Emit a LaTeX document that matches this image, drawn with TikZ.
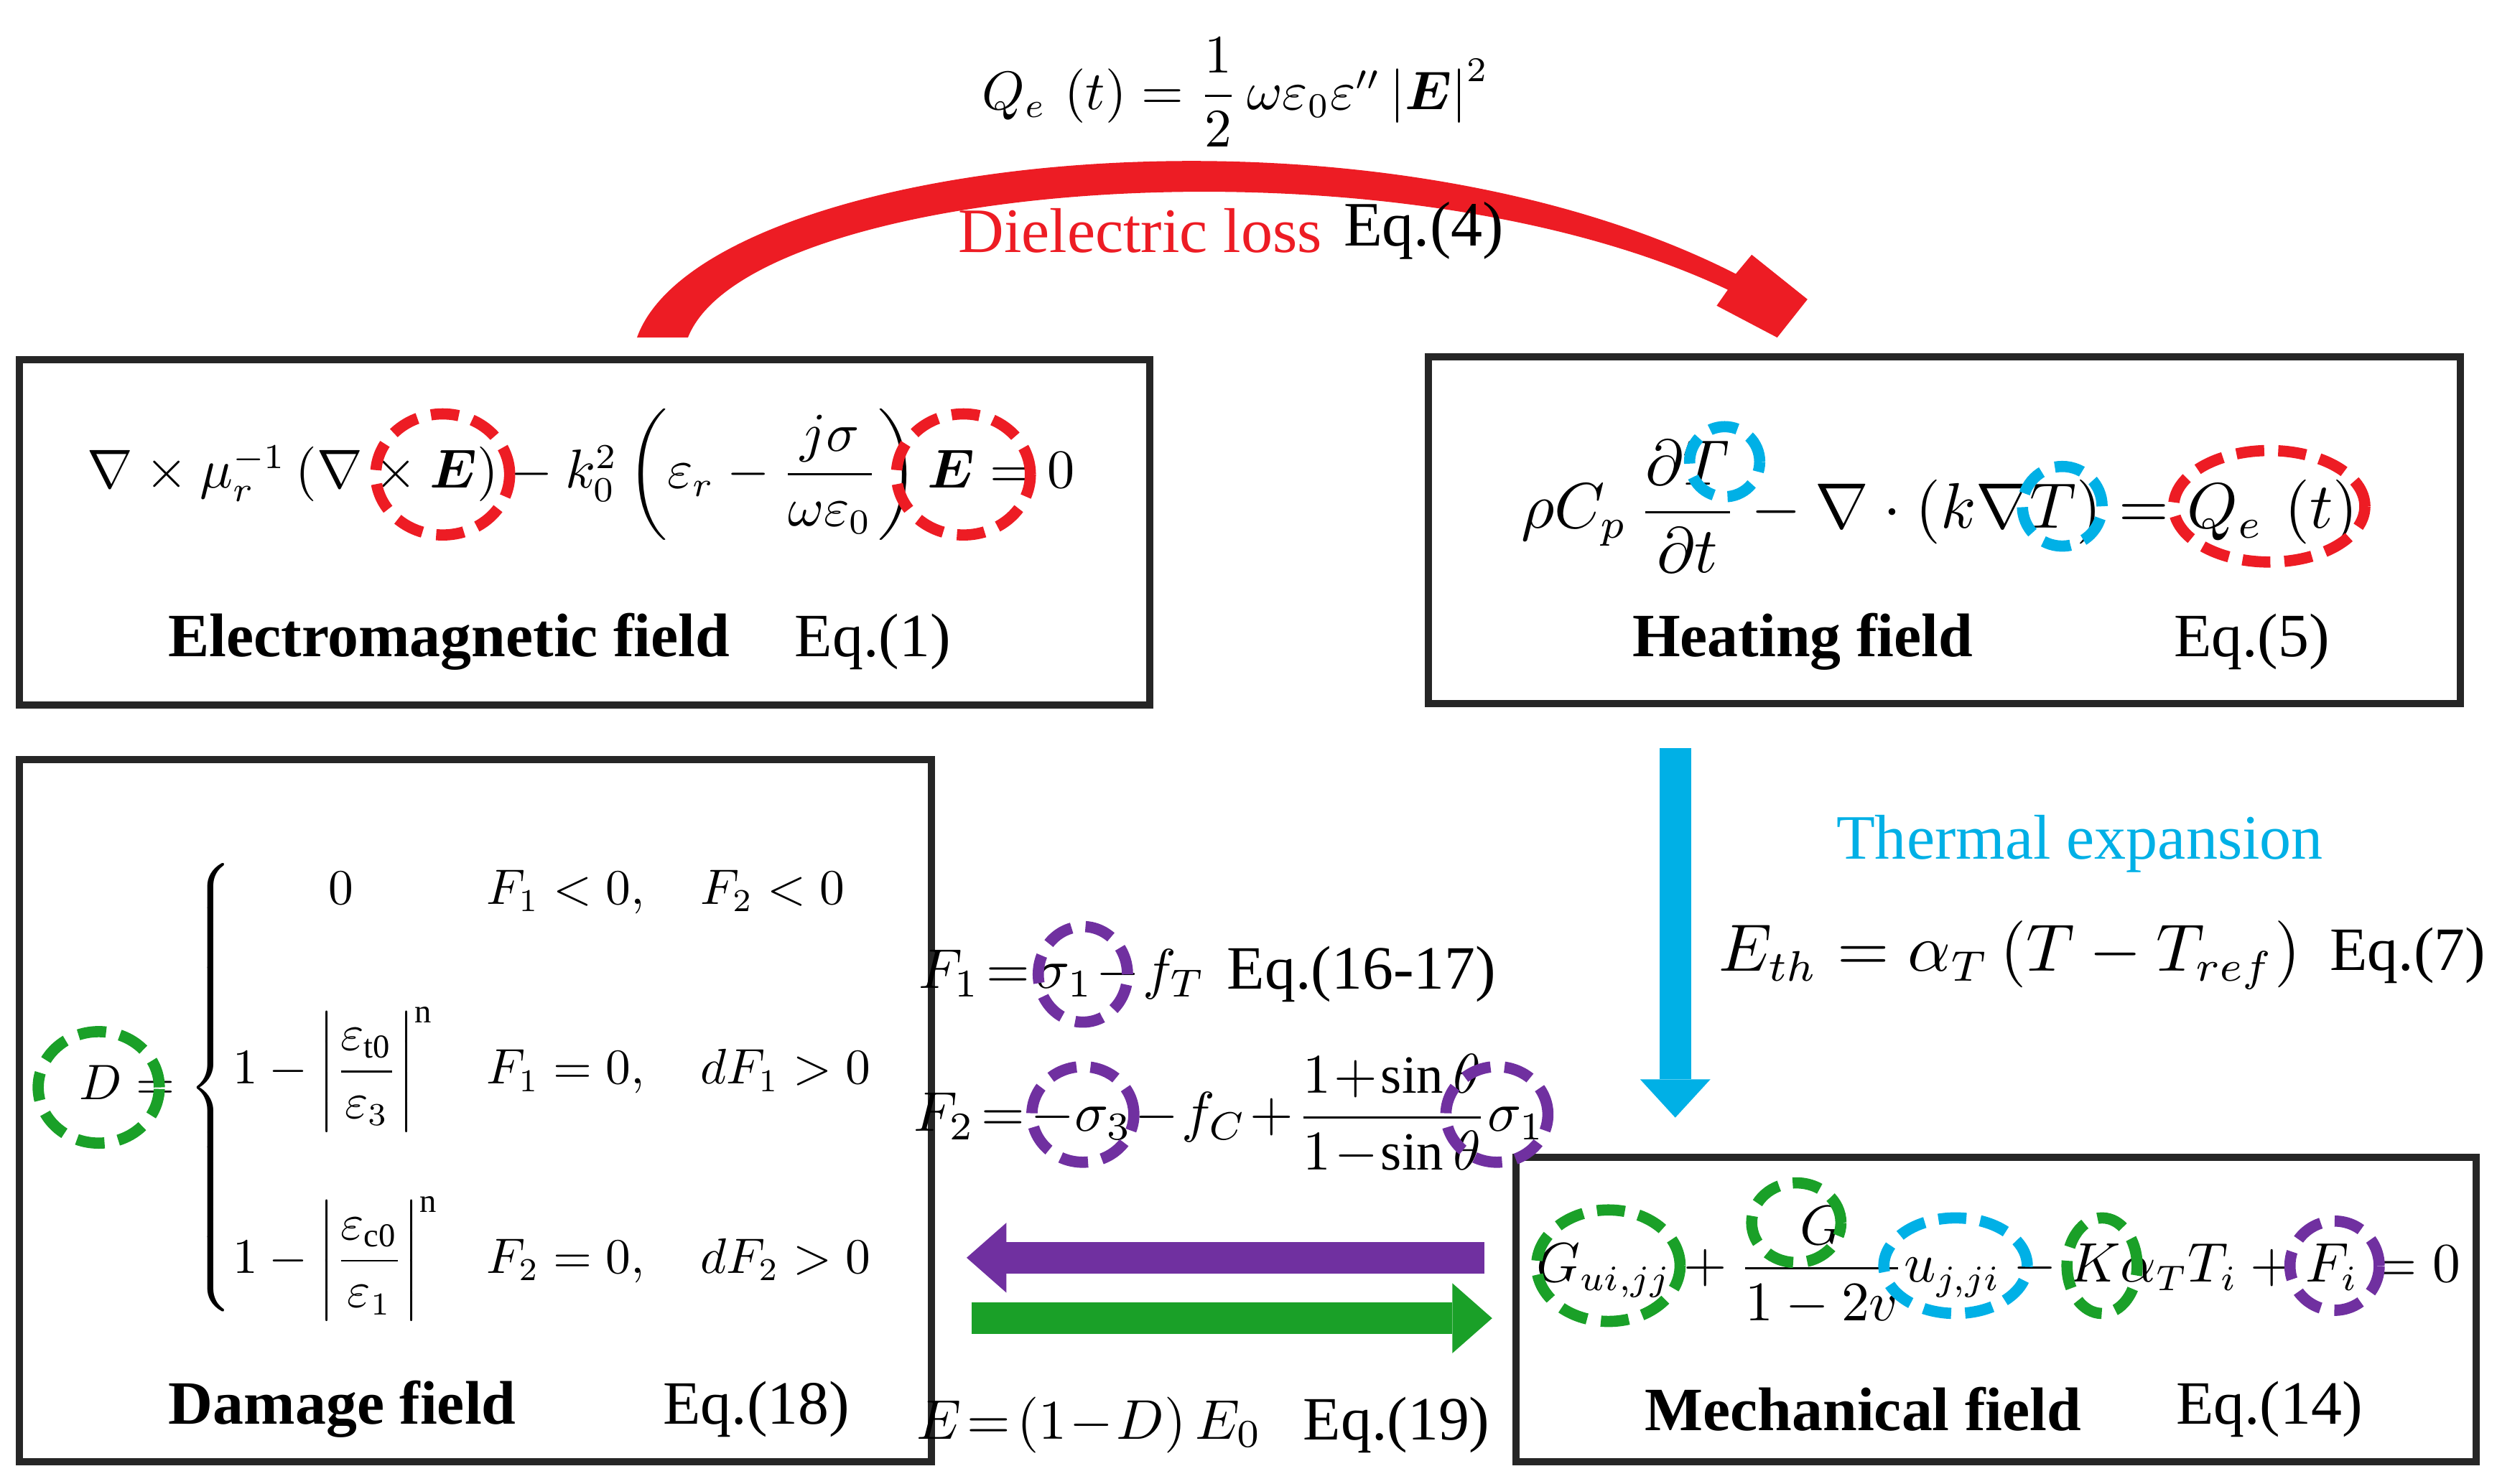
\documentclass[tikz,border=0pt]{standalone}
\usepackage{amsmath,bm,graphicx}
\usepackage{fontspec}
\setmainfont{Liberation Serif}
\usetikzlibrary{shapes.geometric}
\definecolor{myred}{RGB}{237,28,36}
\definecolor{myblue}{RGB}{0,176,230}
\definecolor{mygreen}{RGB}{26,160,40}
\definecolor{mypurple}{RGB}{112,48,160}
\newcommand\tightmath{\thickmuskip=2mu\medmuskip=1mu\relax}
\begin{document}
\begin{tikzpicture}[x=0.01cm,y=-0.01cm,
 box/.style={draw=black!85,line width=1.3pt},
 lab/.style={font=\fontsize{11}{13}\selectfont\bfseries},
 eqn/.style={font=\fontsize{11}{13}\selectfont},
 sm/.style={font={\fontsize{10}{12}\selectfont\tightmath},inner sep=0pt},
 big/.style={font=\fontsize{10.5}{13}\selectfont,inner sep=0pt},
 ell/.style={draw=#1,ellipse,line width=2pt,dash pattern=on 5pt off 2.5pt,inner sep=0pt}]
\useasboundingbox (0,0) rectangle (1568,932);
% boxes
\draw[box] (12,226) rectangle (722,443);
\draw[box] (897,224) rectangle (1545,442);
\draw[box] (12,477) rectangle (585,918);
\draw[box] (952,727) rectangle (1555,918);
% red curved arrow
\fill[myred] (400,212) .. controls (440,100) and (850,50) .. (1090,172)
 -- (1100,160) -- (1135,188) -- (1116,212) -- (1078,192) -- (1085,182)
 .. controls (870,80) and (470,115) .. (432,212) -- cycle;
% blue arrow
\fill[myblue] (1042,470) rectangle (1062,678);
\fill[myblue] (1030,678) -- (1074,678) -- (1052,702) -- cycle;
% purple arrow
\fill[mypurple] (932,780) rectangle (632,800);
\fill[mypurple] (632,768) -- (632,812) -- (607,790) -- cycle;
% green arrow
\fill[mygreen] (610,818) rectangle (912,838);
\fill[mygreen] (912,806) -- (912,850) -- (937,828) -- cycle;
% top
\node[big] (qe) at (776,58) {\resizebox{3.18cm}{!}{$Q_e\,\left(t\right)=\dfrac12\,\omega\varepsilon_0\varepsilon''\left|\boldsymbol{E}\right|^2$}};
\node[font=\fontsize{11.3}{14}\selectfont,text=myred] (dl) at (716,145) {Dielectric loss};
\node[font=\fontsize{11.3}{14}\selectfont] (e4) at (894,145) {Eq.(4)};
% EM
\node[big] (em) at (365,298) {\resizebox{6.2cm}{!}{$\nabla\times\mu_r^{-1}\left(\nabla\times\boldsymbol{E}\right)-k_0^2\left(\varepsilon_r-\dfrac{j\sigma}{\omega\varepsilon_0}\right)\boldsymbol{E}=0$}};
\node[lab] (eml) at (282,403) {Electromagnetic field};
\node[eqn] (e1) at (548,403) {Eq.(1)};
% heating
\node[big] (he) at (1218,318) {\resizebox{5.25cm}{!}{$\rho C_p\,\dfrac{\partial T}{\partial t}-\nabla\cdot\left(k\nabla T\right)=Q_e\,\left(t\right)$}};
\node[lab] (hel) at (1132,403) {Heating field};
\node[eqn] (e5) at (1414,403) {Eq.(5)};
% thermal
\node[font=\fontsize{11.3}{14}\selectfont,text=myblue] (te) at (1306,530) {Thermal expansion};
\node[big] (eth) at (1262,600) {\resizebox{3.65cm}{!}{$E_{th}=\alpha_T\left(T-T_{ref}\right)$}};
\node[eqn] (e7) at (1512,600) {Eq.(7)};
% F
\node[sm] (f1) at (667,612) {$F_1=\sigma_1-f_T$};
\node[eqn] (e16) at (855,612) {Eq.(16-17)};
\node[sm,font={\fontsize{9.6}{12}\selectfont\tightmath}] (f2) at (772,700) {$F_2=-\sigma_3-f_C+\dfrac{1+\sin\theta}{1-\sin\theta}\sigma_1$};
% damage
\node[big] (dm) at (300,683) {\resizebox{5.0cm}{!}{$D=\begin{cases}\qquad 0 & F_1<0,\quad F_2<0\\[18pt]
1-\left|\dfrac{\varepsilon_{\mathrm{t0}}}{\varepsilon_3}\right|^{\mathrm{n}} & F_1=0,\quad dF_1>0\\[20pt]
1-\left|\dfrac{\varepsilon_{\mathrm{c0}}}{\varepsilon_1}\right|^{\mathrm{n}} & F_2=0,\quad dF_2>0\end{cases}$}};
\node[lab] (dml) at (215,885) {Damage field};
\node[eqn] (e18) at (475,885) {Eq.(18)};
\node[sm] (e19a) at (684,895) {$E=\left(1-D\right)E_0$};
\node[eqn] (e19) at (877,895) {Eq.(19)};
% mechanical
\node[big] (me) at (1255,795) {\resizebox{5.8cm}{!}{$G_{ui,jj}+\dfrac{G}{1-2v}u_{j,ji}-K\alpha_T T_i+F_i=0$}};
\node[lab] (mel) at (1170,885) {Mechanical field};
\node[eqn] (e14) at (1425,885) {Eq.(14)};
% ellipses
\node[ell=myred,minimum width=0.84cm,minimum height=0.76cm] (r1) at (278,298) {};
\node[ell=myred,minimum width=0.84cm,minimum height=0.76cm] (r2) at (605,298) {};
\node[ell=myred,minimum width=1.2cm,minimum height=0.7cm] (r3) at (1425,318) {};
\node[ell=myblue,minimum width=0.44cm,minimum height=0.44cm] (b1) at (1083,290) {};
\node[ell=myblue,minimum width=0.5cm,minimum height=0.5cm] (b2) at (1295,318) {};
\node[ell=myblue,minimum width=0.9cm,minimum height=0.6cm] (b3) at (1228,795) {};
\node[ell=mygreen,minimum width=0.76cm,minimum height=0.7cm] (g1) at (62,683) {};
\node[ell=mygreen,minimum width=0.9cm,minimum height=0.7cm] (g2) at (1010,795) {};
\node[ell=mygreen,minimum width=0.56cm,minimum height=0.5cm] (g3) at (1128,768) {};
\node[ell=mygreen,minimum width=0.44cm,minimum height=0.6cm] (g4) at (1320,795) {};
\node[ell=mypurple,minimum width=0.56cm,minimum height=0.6cm] (p1) at (680,612) {};
\node[ell=mypurple,minimum width=0.64cm,minimum height=0.6cm] (p2) at (680,700) {};
\node[ell=mypurple,minimum width=0.64cm,minimum height=0.6cm] (p3) at (940,700) {};
\node[ell=mypurple,minimum width=0.56cm,minimum height=0.56cm] (p4) at (1466,795) {};
\end{tikzpicture}
\end{document}
